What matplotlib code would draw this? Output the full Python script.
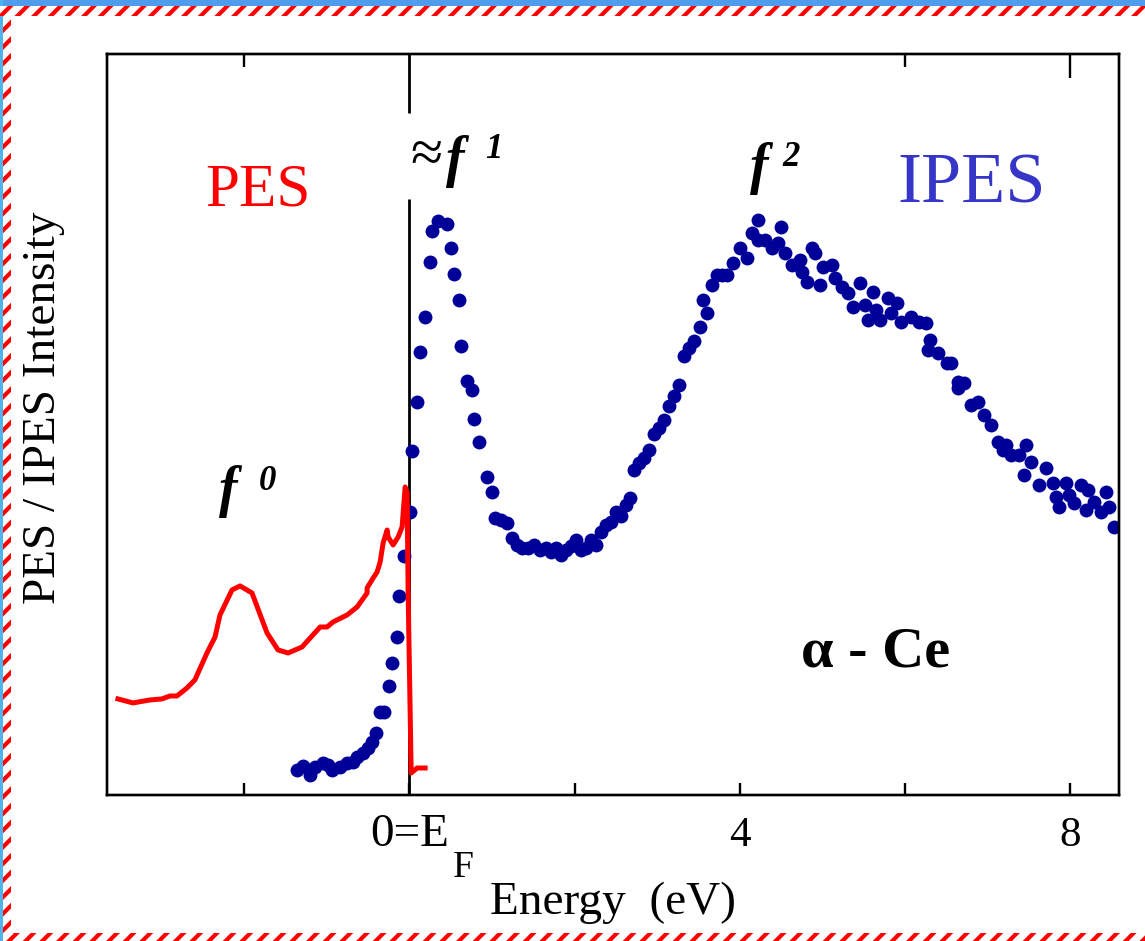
import matplotlib
matplotlib.use('Agg')
import matplotlib.pyplot as plt
from matplotlib.patches import Rectangle

plt.rcParams['font.family'] = 'Liberation Serif'
plt.rcParams['hatch.linewidth'] = 3.0

# inverse photoemission (IPES) points, energy in eV, intensity in arb. units
ipes_energy = [-1.361, -1.288, -1.204, -1.143, -1.047, -0.986, -0.937, -0.840, -0.755, -0.682,
               -0.634, -0.561, -0.501, -0.452, -0.404, -0.355, -0.307, -0.246, -0.210, -0.149,
               -0.125, -0.064, 0.008, 0.033, 0.094, 0.130, 0.191, 0.251, 0.276, 0.348,
               0.457, 0.505, 0.542, 0.602, 0.627, 0.699, 0.760, 0.784, 0.845, 0.942,
               1.002, 1.039, 1.112, 1.184, 1.245, 1.305, 1.366, 1.439, 1.512, 1.584,
               1.657, 1.718, 1.778, 1.839, 1.899, 1.960, 2.021, 2.081, 2.142, 2.202,
               2.263, 2.324, 2.384, 2.445, 2.505, 2.566, 2.627, 2.675, 2.724, 2.784,
               2.845, 2.905, 2.966, 3.027, 3.087, 3.148, 3.208, 3.269, 3.330, 3.390,
               3.451, 3.524, 3.560, 3.608, 3.669, 3.730, 3.790, 3.851, 3.924, 4.008,
               4.093, 4.154, 4.227, 4.227, 4.312, 4.396, 4.469, 4.505, 4.554, 4.639,
               4.736, 4.760, 4.821, 4.881, 4.917, 4.978, 5.015, 5.124, 5.160, 5.245,
               5.317, 5.378, 5.463, 5.523, 5.560, 5.620, 5.645, 5.705, 5.802, 5.827,
               5.911, 5.948, 6.069, 6.166, 6.251, 6.275, 6.311, 6.408, 6.517, 6.554,
               6.639, 6.639, 6.711, 6.796, 6.881, 6.954, 7.039, 7.124, 7.184, 7.220,
               7.281, 7.378, 7.438, 7.463, 7.524, 7.620, 7.705, 7.790, 7.826, 7.863,
               7.948, 7.984, 8.045, 8.130, 8.190, 8.215, 8.287, 8.372, 8.433, 8.469,
               8.530]
ipes_intensity = [3.37, 3.91, 2.70, 3.78, 4.32, 4.05, 3.37, 3.78, 4.32, 4.45,
                  5.13, 5.67, 6.34, 7.15, 8.37, 11.20, 11.20, 14.71, 17.81, 21.32,
                  26.86, 32.25, 38.19, 46.42, 53.04, 59.78, 64.51, 71.93, 76.11, 77.46,
                  77.06, 73.82, 70.31, 66.80, 60.59, 55.87, 54.66, 50.74, 47.64, 42.91,
                  40.89, 37.38, 37.11, 36.71, 34.68, 33.74, 33.33, 33.33, 33.74, 33.06,
                  33.33, 32.79, 33.33, 32.39, 33.06, 33.60, 34.41, 33.06, 33.33, 34.41,
                  33.74, 35.49, 36.44, 36.84, 38.19, 37.65, 39.14, 40.08, 43.86, 44.80,
                  45.48, 46.56, 48.72, 49.53, 50.61, 52.50, 53.85, 55.33, 59.24, 60.32,
                  61.27, 63.16, 66.80, 65.05, 68.83, 70.18, 70.18, 70.18, 71.80, 73.82,
                  72.47, 75.84, 77.60, 74.90, 74.90, 73.82, 74.49, 76.65, 73.14, 71.53,
                  72.20, 70.58, 69.23, 73.82, 73.14, 68.83, 71.26, 71.53, 69.77, 68.56,
                  67.75, 65.86, 69.10, 66.13, 64.10, 67.88, 65.45, 64.10, 67.07, 65.05,
                  66.40, 63.83, 64.51, 63.83, 63.70, 60.05, 61.40, 59.65, 58.30, 58.30,
                  55.74, 54.93, 55.60, 52.63, 53.04, 51.28, 49.93, 47.64, 46.56, 47.23,
                  45.88, 45.88, 43.18, 47.23, 44.94, 41.84, 44.13, 42.11, 40.22, 38.87,
                  42.11, 40.49, 39.41, 41.84, 38.46, 41.16, 39.54, 38.19, 40.89, 38.87,
                  36.17]

# photoemission (PES) spectrum
pes_energy = [-3.531, -3.349, -3.143, -2.998, -2.901, -2.816, -2.695, -2.599, -2.453, -2.355,
              -2.295, -2.149, -2.052, -1.907, -1.725, -1.592, -1.470, -1.301, -1.082, -0.998,
              -0.925, -0.755, -0.634, -0.513, -0.513, -0.440, -0.392, -0.355, -0.319, -0.270,
              -0.258, -0.198, -0.137, -0.089, -0.052, -0.028, -0.016, 0.021, 0.093, 0.190]
pes_intensity = [12.96, 12.42, 12.82, 12.96, 13.36, 13.36, 14.44, 15.52, 19.16, 21.32,
                 24.29, 27.67, 28.21, 27.26, 21.86, 19.57, 19.16, 19.97, 22.67, 22.67,
                 23.35, 24.29, 25.37, 27.26, 27.94, 29.28, 30.09, 31.44, 34.01, 35.76,
                 34.82, 33.74, 34.82, 36.17, 41.57, 40.76, 27.26, 2.97, 3.64, 3.64]

x_ticks = [-2, 0, 2, 4, 6, 8]
x_ticklabels = ['', '0=E', '', '4', '', '8']

fig = plt.figure(figsize=(11.45, 9.41), dpi=100)

# slide frame: blue edge plus red/white striped border
fig.patches.append(Rectangle((0, 1 - 6 / 941), 1, 6 / 941, transform=fig.transFigure,
                             facecolor='#4f9cec', edgecolor='none'))
fig.patches.append(Rectangle((0, 0), 3 / 1145, 1, transform=fig.transFigure,
                             facecolor='#4fb4ee', edgecolor='none'))
for x0, y0, w, h in [(0, 1 - 16 / 941, 1, 10 / 941),
                     (3 / 1145, 0, 8 / 1145, 1 - 6 / 941),
                     (3 / 1145, 0, 1, 8 / 941)]:
    fig.patches.append(Rectangle((x0, y0), w, h, transform=fig.transFigure,
                                 facecolor='white', edgecolor='red', hatch='//', lw=0))

ax = fig.add_axes([0.0937, 0.1552, 0.884, 0.7874])

ax.plot(ipes_energy, ipes_intensity, 'o', color='#000099', ms=10, mec='none', zorder=2)
ax.plot(pes_energy, pes_intensity, color='red', lw=3.6, solid_joinstyle='round', zorder=3)

# Fermi level marker, broken where the f1 label sits
ax.vlines(0, 0, 80.4, color='black', lw=2, zorder=1)
ax.vlines(0, 92.0, 100, color='black', lw=2, zorder=1)

ax.set_xlim(-3.66, 8.60)
ax.set_ylim(0, 100)
ax.set_yticks([])
ax.set_xticks(x_ticks)
ax.set_xticklabels(x_ticklabels)
ax.tick_params(axis='x', direction='in', length=9, width=1.7, labelsize=31, pad=37,
               top=False)
for lab in ax.get_xticklabels():
    lab.set_va('baseline')
ax.get_xticklabels()[1].set_fontsize(34)
for sp in ax.spines.values():
    sp.set_linewidth(1.7)

# a few inward ticks along the top edge
top = ax.twiny()
top.set_xlim(ax.get_xlim())
top.set_xticks([8])
top.set_xticks([-2, 6], minor=True)
top.tick_params(which='both', direction='in', width=1.7, bottom=False, top=True,
                labelbottom=False, labeltop=False)
top.tick_params(which='major', length=17)
top.tick_params(which='minor', length=9)
for sp in top.spines.values():
    sp.set_linewidth(1.7)

ax.text(0.53, -0.1107, 'F', transform=ax.get_xaxis_transform(), fontsize=27,
        va='baseline', ha='left')

ax.set_xlabel('Energy  (eV)', fontsize=34)
ax.xaxis.set_label_coords(0.5, -0.117)
ax.set_ylabel('PES / IPES Intensity', fontsize=34)
ax.yaxis.set_label_coords(-0.042, 0.522)

ax.text(-1.83, 79.6, 'PES', color='red', fontsize=44, ha='center', va='baseline')
ax.text(6.81, 79.9, 'IPES', color='#3535c8', fontsize=52, ha='center', va='baseline')

# f-occupancy labels: italic bold f with raised italic bold digit
fkw = dict(fontsize=40, fontstyle='italic', fontweight='bold', ha='left', va='baseline')
skw = dict(fontsize=25, fontstyle='italic', fontweight='bold', ha='left', va='baseline')
ax.text(0.01, 84.2, '≈', fontsize=42, ha='left', va='baseline')
ax.text(0.44, 83.6, 'f', **fkw)
ax.text(0.92, 86.0, '1', **skw)
ax.text(4.13, 82.6, 'f', **fkw)
ax.text(4.52, 84.9, '2', **skw)
ax.text(-2.31, 39.0, 'f', **fkw)
ax.text(-1.82, 41.2, '0', **skw)

ax.text(5.645, 17.3, 'α - Ce', fontsize=42, fontweight='bold', ha='center', va='baseline')

fig.savefig('out.png', dpi=100)
